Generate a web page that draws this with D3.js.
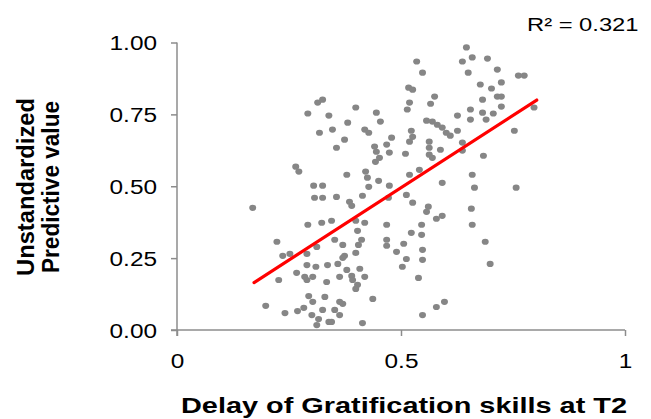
<!DOCTYPE html>
<html>
<head>
<meta charset="utf-8">
<script src="https://cdn.jsdelivr.net/npm/d3@7"></script>
<style>
  body { margin: 0; background: #fff; }
  text { font-family: "Liberation Sans", Arial, sans-serif; }
</style>
</head>
<body>
<script>
// values
const delayT2 = [
  0.314, 0.325, 0.292, 0.339, 0.318, 0.265, 0.272, 0.305, 0.325, 0.646,
  0.535, 0.637, 0.659, 0.693, 0.548, 0.650, 0.517, 0.526, 0.677, 0.575,
  0.566, 0.519, 0.514, 0.682, 0.655, 0.682, 0.399, 0.445, 0.454, 0.381,
  0.347, 0.626, 0.655, 0.690, 0.557, 0.570, 0.581, 0.592, 0.601, 0.523,
  0.526, 0.519, 0.419, 0.428, 0.374, 0.479, 0.468, 0.563, 0.563, 0.626,
  0.610, 0.637, 0.356, 0.441, 0.445, 0.474, 0.510, 0.588, 0.563, 0.570,
  0.452, 0.443, 0.684, 0.637, 0.379, 0.421, 0.425, 0.450, 0.519, 0.541,
  0.659, 0.428, 0.474, 0.592, 0.664, 0.715, 0.762, 0.775, 0.724, 0.702,
  0.715, 0.724, 0.724, 0.706, 0.797, 0.753, 0.757, 0.307, 0.325, 0.169,
  0.292, 0.323, 0.223, 0.236, 0.252, 0.290, 0.312, 0.290, 0.310, 0.336,
  0.267, 0.285, 0.290, 0.303, 0.227, 0.334, 0.294, 0.303, 0.330, 0.198,
  0.241, 0.269, 0.283, 0.301, 0.325, 0.316, 0.312, 0.339, 0.356, 0.385,
  0.390, 0.414, 0.472, 0.512, 0.526, 0.561, 0.557, 0.592, 0.579, 0.657,
  0.345, 0.399, 0.419, 0.468, 0.546, 0.659, 0.403, 0.523, 0.546, 0.352,
  0.370, 0.412, 0.405, 0.468, 0.468, 0.506, 0.688, 0.490, 0.548, 0.374,
  0.370, 0.399, 0.512, 0.548, 0.359, 0.503, 0.699, 0.379, 0.408, 0.363,
  0.390, 0.392, 0.419, 0.539, 0.403, 0.399, 0.437, 0.363, 0.370, 0.579,
  0.597, 0.352, 0.363, 0.548, 0.414, 0.345
];
const predicted = [
  0.791, 0.801, 0.753, 0.746, 0.686, 0.568, 0.551, 0.502, 0.502, 0.983,
  0.934, 0.934, 0.948, 0.944, 0.895, 0.895, 0.843, 0.836, 0.854, 0.812,
  0.787, 0.791, 0.767, 0.801, 0.767, 0.756, 0.774, 0.756, 0.725, 0.721,
  0.697, 0.746, 0.732, 0.732, 0.728, 0.725, 0.714, 0.704, 0.686, 0.693,
  0.672, 0.655, 0.697, 0.686, 0.662, 0.669, 0.645, 0.655, 0.634, 0.693,
  0.676, 0.652, 0.634, 0.638, 0.620, 0.617, 0.613, 0.627, 0.610, 0.599,
  0.599, 0.585, 0.606, 0.624, 0.540, 0.551, 0.530, 0.519, 0.540, 0.557,
  0.540, 0.498, 0.502, 0.512, 0.495, 0.906, 0.885, 0.885, 0.861, 0.840,
  0.812, 0.812, 0.777, 0.753, 0.774, 0.693, 0.495, 0.460, 0.460, 0.425,
  0.366, 0.373, 0.307, 0.258, 0.265, 0.265, 0.289, 0.226, 0.220, 0.226,
  0.199, 0.185, 0.174, 0.185, 0.174, 0.167, 0.118, 0.098, 0.115, 0.084,
  0.059, 0.066, 0.077, 0.052, 0.070, 0.038, 0.017, 0.028, 0.463, 0.446,
  0.432, 0.467, 0.460, 0.470, 0.443, 0.429, 0.411, 0.397, 0.387, 0.422,
  0.380, 0.380, 0.373, 0.366, 0.366, 0.366, 0.345, 0.338, 0.331, 0.314,
  0.296, 0.314, 0.296, 0.314, 0.293, 0.300, 0.307, 0.272, 0.279, 0.258,
  0.251, 0.268, 0.247, 0.244, 0.230, 0.220, 0.230, 0.209, 0.213, 0.185,
  0.188, 0.174, 0.185, 0.181, 0.157, 0.143, 0.108, 0.098, 0.091, 0.080,
  0.098, 0.070, 0.052, 0.052, 0.024, 0.028
];
const xTicks = [0, 0.5, 1];
const xTickLabels = ["0", "0.5", "1"];
const yTicks = [0, 0.25, 0.5, 0.75, 1];
const yTickLabels = ["0.00", "0.25", "0.50", "0.75", "1.00"];
// fitted line y = a + b*x, drawn over the data range
const fitIntercept = -0.008;
const fitSlope = 1.006;
const fitRange = [0.172, 0.803];
const rSquared = "R\u00b2 = 0.321";

const W = 651, H = 419;
const stretch = 1.25; // the picture is wider than it is tall

const svg = d3.select("body").append("svg")
  .attr("width", W)
  .attr("height", H);

const x = d3.scaleLinear().domain([0, 1]).range([177, 625]);
const y = d3.scaleLinear().domain([0, 1]).range([330, 42.5]);

const axisColor = "#8c8c8c";

// axes, excel style: lines run a little past the origin
svg.append("line")
  .attr("x1", x(0)).attr("x2", x(0))
  .attr("y1", y(1)).attr("y2", y(0) + 6)
  .attr("stroke", axisColor).attr("stroke-width", 1.5);
svg.append("line")
  .attr("x1", x(0) - 6).attr("x2", x(1))
  .attr("y1", y(0)).attr("y2", y(0))
  .attr("stroke", axisColor).attr("stroke-width", 1.5);

const yAxis = svg.append("g")
  .attr("transform", `translate(${x(0)},0)`)
  .call(d3.axisLeft(y).tickValues(yTicks)
    .tickFormat((d, i) => yTickLabels[i])
    .tickSizeInner(6).tickSizeOuter(0));
yAxis.select(".domain").remove();
yAxis.selectAll(".tick line").attr("stroke", axisColor).attr("stroke-width", 1.5);
yAxis.selectAll(".tick text")
  .attr("x", 0).attr("dy", "0.36em")
  .attr("transform", `translate(-20,0) scale(${stretch},1)`)
  .attr("font-size", 19.5).attr("fill", "#000")
  .style("font-family", "'Liberation Sans', Arial, sans-serif");

const xAxis = svg.append("g")
  .attr("transform", `translate(0,${y(0)})`)
  .call(d3.axisBottom(x).tickValues(xTicks)
    .tickFormat((d, i) => xTickLabels[i])
    .tickSizeInner(6).tickSizeOuter(0));
xAxis.select(".domain").remove();
xAxis.selectAll(".tick line").attr("stroke", axisColor).attr("stroke-width", 1.5);
xAxis.selectAll(".tick text")
  .attr("y", 0).attr("dy", 0)
  .attr("transform", `translate(0,38) scale(${stretch},1)`)
  .attr("font-size", 19.5).attr("fill", "#000")
  .style("font-family", "'Liberation Sans', Arial, sans-serif");

// points
const pts = d3.zip(delayT2, predicted);
svg.append("g")
  .selectAll("ellipse")
  .data(pts)
  .join("ellipse")
  .attr("cx", d => x(d[0]))
  .attr("cy", d => y(d[1]))
  .attr("rx", 3.5)
  .attr("ry", 3.1)
  .attr("fill", "#868686");

// regression line
const fit = fitRange.map(v => [v, fitIntercept + fitSlope * v]);
svg.append("path")
  .datum(fit)
  .attr("d", d3.line().x(d => x(d[0])).y(d => y(d[1])))
  .attr("stroke", "#ff0000")
  .attr("stroke-width", 3.2)
  .attr("stroke-linecap", "round")
  .attr("fill", "none");

// r squared
svg.append("text")
  .attr("transform", `translate(527,31) scale(${stretch},1)`)
  .attr("font-size", 19)
  .attr("fill", "#000")
  .text(rSquared);

// axis titles
svg.append("text")
  .attr("x", 404).attr("y", 413)
  .attr("text-anchor", "middle")
  .attr("font-size", 22).attr("font-weight", "bold")
  .attr("textLength", 446).attr("lengthAdjust", "spacingAndGlyphs")
  .text("Delay of Gratification skills at T2");

const yTitle = svg.append("g")
  .attr("transform", "translate(0,187) rotate(-90)");
yTitle.append("text")
  .attr("x", 0).attr("y", 34)
  .attr("text-anchor", "middle")
  .attr("font-size", 23).attr("font-weight", "bold")
  .attr("textLength", 178).attr("lengthAdjust", "spacingAndGlyphs")
  .text("Unstandardized");
yTitle.append("text")
  .attr("x", 0).attr("y", 59)
  .attr("text-anchor", "middle")
  .attr("font-size", 23).attr("font-weight", "bold")
  .attr("textLength", 172).attr("lengthAdjust", "spacingAndGlyphs")
  .text("Predictive value");
</script>
</body>
</html>
